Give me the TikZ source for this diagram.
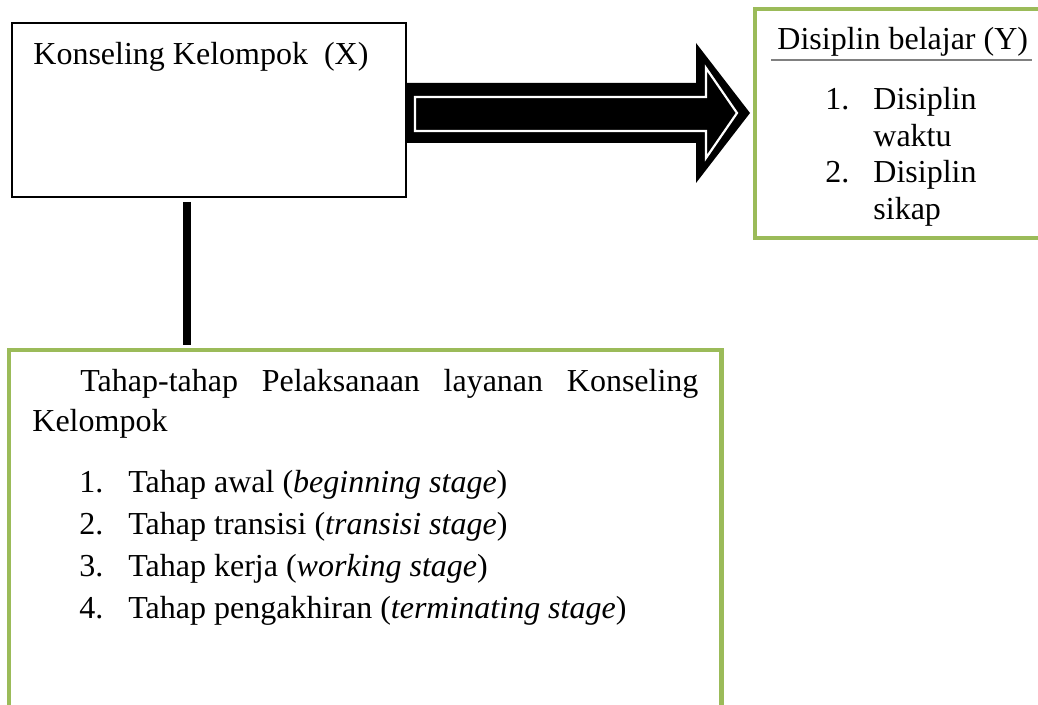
\documentclass[tikz,border=0pt]{standalone}
\usepackage{fontspec}
\setmainfont{Liberation Serif}
\definecolor{olivegreen}{HTML}{9BBB59}
\begin{document}
\begin{tikzpicture}[x=0.5pt,y=-0.5pt,
  txt/.style={anchor=base west, inner sep=0pt, font=\fontsize{16}{18.4}\selectfont},
  plainbox/.style={draw=black, line width=1pt, inner sep=0pt, minimum width=197pt, minimum height=87pt},
  greenbox/.style={draw=olivegreen, line width=2.4pt, inner sep=0pt},
  conn/.style={line width=4pt, black},
  blockarrow/.style={fill=black},
  innerline/.style={draw=white, line width=1.1pt, line join=miter}]
\useasboundingbox (0,0) rectangle (1038,705);

% boxes
\node[plainbox] (X) at (209,110) {};
\node[greenbox, minimum width=145pt, minimum height=114.5pt] (Y) at (900,123.5) {};
\node[greenbox, minimum width=356.25pt, minimum height=179pt] (B) at (365.25,529) {};

% texts of box X
\node[txt] (Xt) at (33,65) {Konseling Kelompok\ \ (X)};

% texts of box Y
\node[txt] (Yt) at (777,50) {Disiplin belajar (Y)};
\draw[gray, line width=0.6pt] (771,60) -- (1032,60);
\node[txt] (Y1) at (825,110) {\makebox[24pt][l]{1.}Disiplin};
\node[txt] (Y1b) at (873,147) {waktu};
\node[txt] (Y2) at (825,183) {\makebox[24pt][l]{2.}Disiplin};
\node[txt] (Y2b) at (873,220) {sikap};

% texts of box B
\node[txt] (Bt1) at (32,392) {\hbox to 333pt{\hspace*{24pt}Tahap-tahap\hfill Pelaksanaan\hfill layanan\hfill Konseling}};
\node[txt] (Bt2) at (32,431) {Kelompok};
\node[txt] (B1) at (79,492) {\makebox[24.5pt][l]{1.}Tahap awal (\textit{beginning stage})};
\node[txt] (B2) at (79,534) {\makebox[24.5pt][l]{2.}Tahap transisi (\textit{transisi stage})};
\node[txt] (B3) at (79,576) {\makebox[24.5pt][l]{3.}Tahap kerja (\textit{working stage})};
\node[txt] (B4) at (79,618) {\makebox[24.5pt][l]{4.}Tahap pengakhiran (\textit{terminating stage})};

% block arrow X -> Y
\fill[blockarrow] (405,83) -- (696,83) -- (696,43) -- (750,113) -- (696,183) -- (696,143) -- (405,143) -- cycle;
\draw[innerline] (415,97) -- (706,97) -- (706,68) -- (737,113) -- (706,158) -- (706,131) -- (415,131) -- cycle;

% vertical connector X -> B
\coordinate (cx) at (187,0);
\draw[conn, shorten <=2pt, shorten >=1.5pt] (X.south -| cx) -- (B.north -| cx);
\end{tikzpicture}
\end{document}
